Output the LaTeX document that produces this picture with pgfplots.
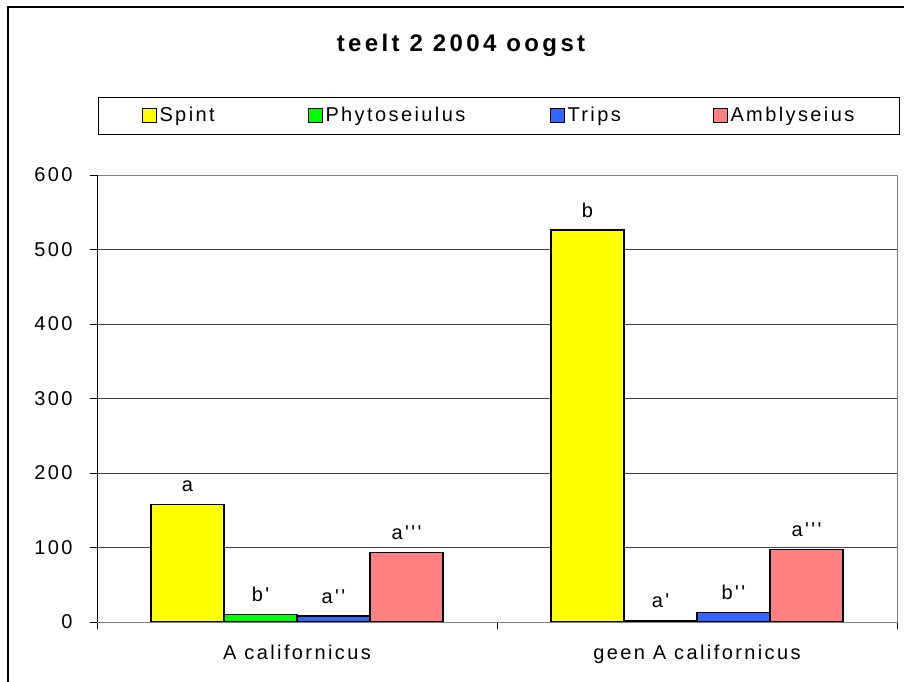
\documentclass[border=0pt]{standalone}
\usepackage{fontspec}
\usepackage{pgfplots}
\pgfplotsset{compat=1.18}
\setmainfont{Liberation Sans}
\newfontfamily\lab{Liberation Sans}[LetterSpace=12]
\newfontfamily\titlefont{Liberation Sans Bold}[LetterSpace=14]
\definecolor{cyel}{HTML}{FFFF00}
\definecolor{cgrn}{HTML}{00FF00}
\definecolor{cblu}{HTML}{3366FF}
\definecolor{cpnk}{HTML}{FF8080}
\newcommand\lf{\lab\fontsize{20bp}{24bp}\selectfont}
\pgfplotsset{mylegend/.style={legend image code/.code={\draw[##1, draw=black, line width=1bp] (0bp,-7bp) rectangle (14bp,7bp);}}}
\begin{document}
\begin{tikzpicture}
\useasboundingbox (0,0) rectangle (904bp,682bp);
\draw[line width=1.2bp] (8bp,-10bp) -- (8bp,675bp) -- (930bp,675bp);
\node[font=\titlefont\fontsize{24bp}{28bp}\selectfont] at (461bp,637bp) {teelt 2 2004 oogst};
\begin{axis}[
  at={(97bp,60bp)}, anchor=south west,
  scale only axis, width=800bp, height=447bp,
  xmin=-0.5, xmax=1.5, ymin=0, ymax=600,
  ybar=0pt, bar width=73bp,
  xtick={-0.5,0.5,1.5}, x tick label as interval,
  xticklabels={A californicus, geen A californicus},
  ytick={0,100,...,600},
  ymajorgrids, grid style={black!75, line width=0.8bp},
  tick align=outside, major tick length=7bp,
  xtick pos=lower, ytick pos=left,
  tick style={black, line width=0.8bp},
  axis line style={draw=gray, line width=0.8bp},
  ticklabel style={font=\lf},
  xticklabel style={yshift=-12bp},
  yticklabel style={xshift=-14bp},
  /pgf/number format/assume math mode=true,
  nodes near coords, point meta=explicit symbolic,
  nodes near coords style={font=\lf, inner sep=0pt, yshift=12bp},
  legend columns=4,
  legend style={at={(0.00125,1.1745)}, anchor=north west, draw=black, line width=1bp,
    inner xsep=43bp, inner ysep=9bp, font=\lf,
    nodes={inner sep=0pt, text height=15bp, text depth=4bp},
    /tikz/column sep=0pt},
]
\addplot[fill=cyel, draw=black, line width=1.3bp, mylegend] coordinates {(0,158) [a] (1,526) [b]};
\addlegendentry{\makebox[151bp][l]{\hspace{3bp}Spint}}
\addplot[fill=cgrn, draw=black, line width=1.3bp, mylegend] coordinates {(0,10.5) [b'] (1,1.7) [a']};
\addlegendentry{\makebox[227bp][l]{\hspace{3bp}Phytoseiulus}}
\addplot[fill=cblu, draw=black, line width=1.3bp, mylegend] coordinates {(0,8) [a''] (1,13) [b'']};
\addlegendentry{\makebox[148bp][l]{\hspace{3bp}Trips}}
\addplot[fill=cpnk, draw=black, line width=1.3bp, mylegend] coordinates {(0,93.5) [a'''] (1,97) [a''']};
\addlegendentry{\makebox[129bp][l]{\hspace{3bp}Amblyseius}}
\draw[black, line width=0.8bp] (rel axis cs:0,1) -- (rel axis cs:0,0) -- (rel axis cs:1,0);
\end{axis}
\end{tikzpicture}
\end{document}
